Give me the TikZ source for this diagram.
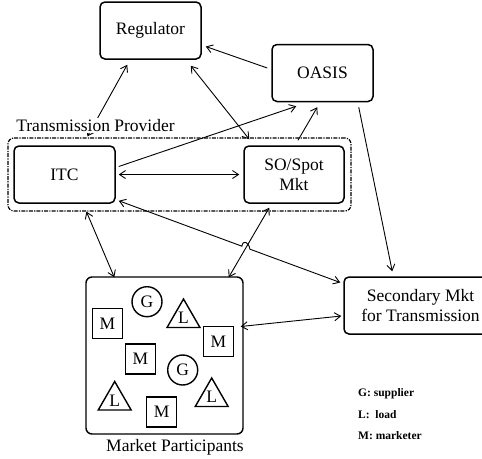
\documentclass[tikz,border=0pt]{standalone}
\usepackage{fontspec}
\setmainfont{Liberation Serif}
\usetikzlibrary{arrows.meta,positioning,calc,shapes.geometric}
\tikzset{
  blk/.style={draw,rounded corners=5pt,line width=1.5pt,minimum width=101pt,minimum height=57pt,align=center,inner sep=2pt},
  tpbox/.style={draw,rounded corners=6pt,line width=1.2pt,dash pattern=on 4pt off 1.2pt on 1.2pt off 1.2pt,minimum width=343pt,minimum height=73pt},
  mpbox/.style={draw,rounded corners=6pt,line width=1.4pt,minimum width=157pt,minimum height=157pt},
  msq/.style={draw,line width=1.4pt,minimum size=30pt,inner sep=0pt},
  gcir/.style={circle,draw,line width=1.4pt,minimum size=30pt,inner sep=0pt},
  ltri/.style={regular polygon,regular polygon sides=3,draw,line width=1.4pt,minimum size=38pt,inner sep=0pt},
  legend/.style={anchor=base west,inner sep=0pt,font=\fontsize{11.5}{13}\selectfont\bfseries},
  arr/.style={-{Straight Barb[length=6pt,width=8pt]},line width=0.9pt},
  dblarr/.style={{Straight Barb[length=6pt,width=8pt]}-{Straight Barb[length=6pt,width=8pt]},line width=0.9pt},
}
\begin{document}
\begin{tikzpicture}[x=1pt,y=-1pt,font=\fontsize{17.5}{20}\selectfont]
  \useasboundingbox (0,0) rectangle (482,458);
  % boxes
  \node[blk] (reg) at (150.5,30.5) {Regulator};
  \node[blk] (oasis) at (322.5,73) {OASIS};
  \node[tpbox] (tp) at (179.5,174.5) {};
  \node[blk] (itc) at (64.5,174.5) {ITC};
  \node[blk,minimum width=100pt] (so) at (294,174.5) {SO/Spot\\Mkt};
  \node[blk,minimum width=153pt] (sec) at (420.5,305.5) {Secondary Mkt\\for Transmission};
  \node[mpbox] (mp) at (164.5,355.5) {};
  \node[anchor=base,inner sep=0pt] (mplabel) at (175,451) {Market Participants};
  % participants
  \node[msq] (m1) at (107.5,323.5) {M};
  \node[gcir] (g1) at (147,301.7) {G};
  \node[ltri] (l1) at (183.5,318) {L};
  \node[msq] (m2) at (218.5,341.7) {M};
  \node[msq] (m3) at (140.5,359) {M};
  \node[gcir] (g2) at (182.7,370) {G};
  \node[ltri] (l2) at (114.7,400.5) {L};
  \node[msq] (m4) at (161.7,412) {M};
  \node[ltri] (l3) at (211.7,397) {L};
  % legend
  \node[legend] (leg1) at (358,396.5) {G: supplier};
  \node[legend] (leg2) at (358,418) {L:\ \ load};
  \node[legend] (leg3) at (358,439) {M: marketer};
  % connectors
  \draw[dblarr] ($(tp.north west)+(80,-1)$) -- ($(reg.south west)+(28,5)$);
  \draw[dblarr] ($(reg.south east)+(-11,6)$) -- ($(so.north west)+(6,-6)$);
  \draw[arr] ($(oasis.west)+(-4,-5)$) -- ($(reg.east)+(4,16)$);
  \draw[arr] ($(itc.east)+(3,-8)$) -- ($(oasis.south west)+(25,4)$);
  \draw[arr] ($(so.north)+(4,-5)$) -- ($(oasis.south west)+(46,5)$);
  \draw[dblarr] ($(itc.east)+(3,0)$) -- ($(so.west)+(-4,0)$);
  \draw[arr] ($(oasis.south east)+(-15,5)$) -- ($(sec.north west)+(49,-5)$);
  \coordinate (hs) at ($(itc.south east)+(3,-3)$);
  \coordinate (he) at ($(sec.west)+(-3,-23)$);
  \draw[dblarr] (hs) -- ($(hs)!0.556!(he)$) .. controls +(1,-7) and +(-1,-7) .. ($(hs)!0.592!(he)$) -- (he);
  \draw[dblarr] ($(tp.south west)+(79,0)$) -- ($(mp.north west)+(29,1)$);
  \draw[dblarr] ($(so.south west)+(26,4)$) -- ($(mp.north east)+(-15,1)$);
  \draw[dblarr] ($(mp.east)+(-3,-29)$) -- ($(sec.west)+(-2,10.5)$);
  % label over the arrow
  \node[anchor=base,fill=white,inner sep=1pt] (tplabel) at (95.5,131.5) {Transmission Provider};
\end{tikzpicture}
\end{document}
